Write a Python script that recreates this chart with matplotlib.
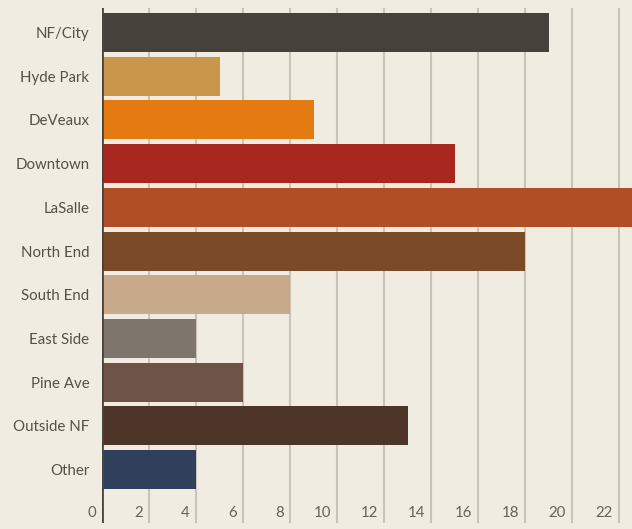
import matplotlib
matplotlib.use("Agg")
import matplotlib.pyplot as plt
import matplotlib.transforms as mtransforms

categories = ["NF/City", "Hyde Park", "DeVeaux", "Downtown", "LaSalle", "North End",
              "South End", "East Side", "Pine Ave", "Outside NF", "Other"]
values = [19, 5, 9, 15, 23, 18, 8, 4, 6, 13, 4]
colors = ["#46413b", "#c9964b", "#e47b12", "#a8271f", "#b04f26", "#7b4b28",
          "#c8aa8b", "#7e766c", "#6e5446", "#4e3529", "#2f3f5c"]
xticks = [0, 2, 4, 6, 8, 10, 12, 14, 16, 18, 20, 22]

bg = "#f0ece2"
plt.rcParams['font.family'] = ['Lato', 'DejaVu Sans']

fig = plt.figure(figsize=(6.32, 5.29), dpi=100, facecolor=bg)
ax = fig.add_axes([102/632, 1 - 523/529, 1 - 102/632, (523 - 8)/529])
ax.set_facecolor(bg)

y = list(range(len(categories)))
ax.barh(y, values, height=0.89, color=colors, zorder=2)

ax.set_xlim(0, 22.55)
ax.set_ylim(len(categories) - 1 + 1.22, -0.56)

for t in xticks[1:]:
    ax.axvline(t, color="#c9c4b7", lw=1.5, zorder=1)
ax.axvline(0, color="#4a4540", lw=2, zorder=3)

for s in ax.spines.values():
    s.set_visible(False)

ax.set_yticks(y)
ax.set_yticklabels(categories, fontsize=10.8, color="#555049")
ax.tick_params(axis='y', length=0, pad=9)
ax.set_xticks([])

base = mtransforms.blended_transform_factory(ax.transData, ax.transAxes)
off = mtransforms.offset_copy(base, fig=fig, x=-4.5, y=0, units='points')
for t in xticks:
    ax.text(t, 0.02, str(t), transform=off, ha='right', va='center',
            fontsize=10.8, color="#66615a")

fig.savefig("out.png", dpi=100, facecolor=bg)
